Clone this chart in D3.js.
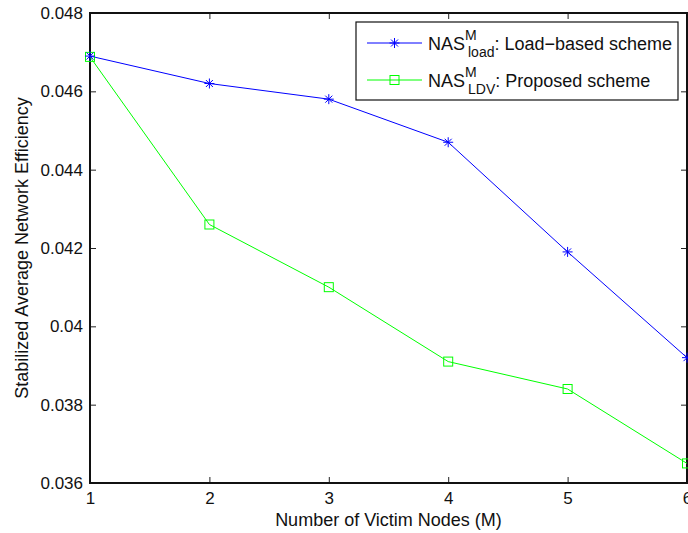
<!DOCTYPE html>
<meta charset="utf-8">
<style>
body { margin: 0; background: #fff; }
text { font-family: "Liberation Sans", Arial, sans-serif; }
</style>
<svg width="688" height="533"></svg>
<script src="https://d3js.org/d3.v7.min.js"></script>
<script>

var victims = [1, 2, 3, 4, 5, 6];
var loadBased = [0.0469, 0.0462, 0.0458, 0.0447, 0.0419, 0.0392];
var proposed = [0.04688, 0.0426, 0.0410, 0.0391, 0.0384, 0.0365];
var yTicks = [0.036, 0.038, 0.04, 0.042, 0.044, 0.046, 0.048];
var xTicks = [1, 2, 3, 4, 5, 6];

var svg = d3.select("svg");
var pl = 90, pr = 687, pt = 13, pb = 483;
var fs = 17;

var x = d3.scaleLinear().domain([1, 6]).range([pl, pr]);
var y = d3.scaleLinear().domain([0.036, 0.048]).range([pb, pt]);

// ticks inside the box on all four sides
var tl = 6;
svg.append("g")
    .attr("transform", "translate(0," + pb + ")")
    .call(d3.axisBottom(x).tickValues(xTicks).tickSizeInner(-tl).tickSizeOuter(0).tickPadding(9).tickFormat(d3.format("d")))
    .call(function(g) { g.select(".domain").remove(); });
svg.append("g")
    .attr("transform", "translate(0," + pt + ")")
    .call(d3.axisTop(x).tickValues(xTicks).tickSizeInner(-tl).tickSizeOuter(0).tickFormat(""))
    .call(function(g) { g.select(".domain").remove(); });
svg.append("g")
    .attr("transform", "translate(" + pl + ",0)")
    .call(d3.axisLeft(y).tickValues(yTicks).tickSizeInner(-tl).tickSizeOuter(0).tickPadding(7).tickFormat(function(d) { return +d.toFixed(3); }))
    .call(function(g) { g.select(".domain").remove(); });
svg.append("g")
    .attr("transform", "translate(" + pr + ",0)")
    .call(d3.axisRight(y).tickValues(yTicks).tickSizeInner(-tl).tickSizeOuter(0).tickFormat(""))
    .call(function(g) { g.select(".domain").remove(); });

svg.selectAll(".tick line").attr("stroke", "#222");
svg.selectAll(".tick text").attr("font-size", fs).attr("fill", "#111")
    .attr("font-family", "'Liberation Sans', Arial, sans-serif");

svg.append("rect")
    .attr("x", pl).attr("y", pt)
    .attr("width", pr - pl).attr("height", pb - pt)
    .attr("fill", "none").attr("stroke", "#111").attr("stroke-width", 2);

var line = d3.line().x(function(d, i) { return x(victims[i]); }).y(function(d) { return y(d); });

svg.append("path").datum(loadBased)
    .attr("d", line).attr("fill", "none").attr("stroke", "#0000ff").attr("stroke-width", 1);
svg.append("path").datum(proposed)
    .attr("d", line).attr("fill", "none").attr("stroke", "#00ff00").attr("stroke-width", 1);

function star(g, cx, cy) {
  var r = 5;
  g.append("path")
    .attr("d", "M" + (cx - r) + "," + cy + "H" + (cx + r) +
               "M" + cx + "," + (cy - r) + "V" + (cy + r) +
               "M" + (cx - r * 0.7) + "," + (cy - r * 0.7) + "L" + (cx + r * 0.7) + "," + (cy + r * 0.7) +
               "M" + (cx - r * 0.7) + "," + (cy + r * 0.7) + "L" + (cx + r * 0.7) + "," + (cy - r * 0.7))
    .attr("stroke", "#0000ff").attr("stroke-width", 1).attr("fill", "none");
}
function square(g, cx, cy) {
  g.append("rect").attr("x", cx - 4.5).attr("y", cy - 4.5).attr("width", 9).attr("height", 9)
    .attr("fill", "none").attr("stroke", "#00ff00").attr("stroke-width", 1);
}

var marks = svg.append("g");
proposed.forEach(function(d, i) { square(marks, x(victims[i]), y(d)); });
loadBased.forEach(function(d, i) { star(marks, x(victims[i]), y(d)); });

// axis titles
svg.append("text")
    .attr("x", (pl + pr) / 2).attr("y", 526)
    .attr("text-anchor", "middle").attr("font-size", 18).attr("fill", "#111")
    .text("Number of Victim Nodes (M)");
svg.append("text")
    .attr("transform", "translate(28," + ((pt + pb) / 2) + ") rotate(-90)")
    .attr("text-anchor", "middle").attr("font-size", 18).attr("fill", "#111")
    .text("Stabilized Average Network Efficiency");

// legend
var lg = svg.append("g");
lg.append("rect").attr("x", 356).attr("y", 22).attr("width", 322).attr("height", 78)
    .attr("fill", "#fff").attr("stroke", "#111").attr("stroke-width", 1.2);

var entries = [
  {sub: "load", rest: ": Load\u2212based scheme", color: "#0000ff", mark: star, yy: 43},
  {sub: "LDV", rest: ": Proposed scheme", color: "#00ff00", mark: square, yy: 80}
];
entries.forEach(function(e) {
  lg.append("line").attr("x1", 367).attr("x2", 422).attr("y1", e.yy).attr("y2", e.yy)
    .attr("stroke", e.color).attr("stroke-width", 1);
  e.mark(lg, 394.5, e.yy);
  var t = lg.append("text").attr("x", 428).attr("y", e.yy + 7).attr("font-size", 18).attr("fill", "#111");
  t.append("tspan").text("NAS");
  var nasW = 40;
  t.append("tspan").attr("font-size", 14).attr("dy", -10).text("M");
  t.append("tspan").attr("font-size", 14).attr("x", 428 + nasW).attr("dy", 17).text(e.sub);
  t.append("tspan").attr("dy", -7).text(e.rest);
});

</script>
